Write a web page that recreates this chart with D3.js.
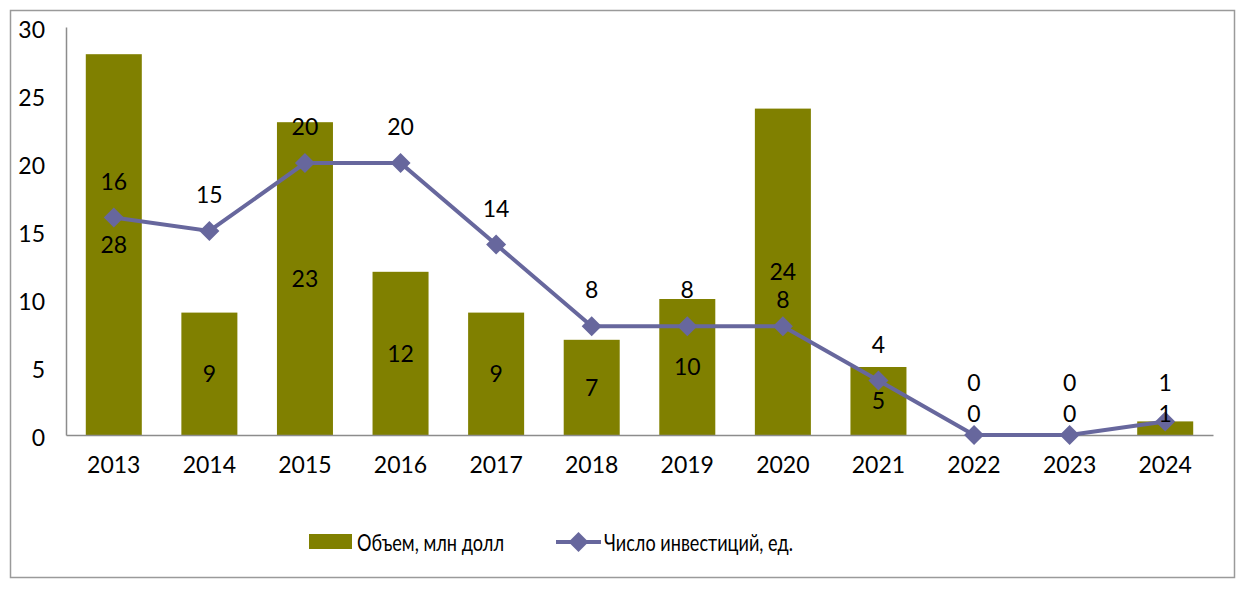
<!DOCTYPE html>
<html><head><meta charset="utf-8">
<script src="https://cdn.jsdelivr.net/npm/d3@7/dist/d3.min.js"></script>
<style>
html,body{margin:0;padding:0;background:#fff;}
svg text{font-family:Lato,"Open Sans",sans-serif;fill:#000;}
</style></head>
<body>
<svg id="chart" width="1248" height="589"></svg>
<script>
const years = ["2013","2014","2015","2016","2017","2018","2019","2020","2021","2022","2023","2024"];
const volume = [28, 9, 23, 12, 9, 7, 10, 24, 5, 0, 0, 1];
const counts = [16, 15, 20, 20, 14, 8, 8, 8, 4, 0, 0, 1];
const yTicks = [0, 5, 10, 15, 20, 25, 30];
const seriesNames = ["Объем, млн долл", "Число инвестиций, ед."];

const barColor = "#808000", lineColor = "#67679d", fs = 23;
const svg = d3.select("#chart");
const m = {left: 66, right: 1213, top: 27, bottom: 435};

svg.append("rect").attr("x", 10.5).attr("y", 10.5).attr("width", 1224).attr("height", 567)
  .attr("fill", "#fff").attr("stroke", "#9a9a9a").attr("stroke-width", 1.5);

const x = d3.scaleBand().domain(years).range([m.left, m.right]).paddingInner(0.414).paddingOuter(0.207);
const y = d3.scaleLinear().domain([0, 30]).range([m.bottom, m.top]);

// y axis
const ya = svg.append("g").attr("transform", `translate(${m.left},0)`)
  .call(d3.axisLeft(y).tickValues(yTicks).tickSize(0).tickPadding(21));
ya.select(".domain").attr("stroke", "#8c8c8c").attr("stroke-width", 1.5);
ya.selectAll("text").attr("font-size", fs).attr("dy", "0.45em").style("font-family", "Lato");

// bars
svg.append("g").selectAll("rect").data(years).join("rect")
  .attr("x", d => x(d)).attr("width", x.bandwidth())
  .attr("y", (d, i) => y(volume[i])).attr("height", (d, i) => y(0) - y(volume[i]))
  .attr("fill", barColor);

// x axis
const xa = svg.append("g").attr("transform", `translate(0,${m.bottom})`)
  .call(d3.axisBottom(x).tickSize(0).tickPadding(22));
xa.select(".domain").attr("stroke", "#8c8c8c").attr("stroke-width", 1.5);
xa.selectAll("text").attr("font-size", fs).style("font-family", "Lato");

// line
const cx = d => x(d) + x.bandwidth() / 2;
const line = d3.line().x((d, i) => cx(years[i])).y(d => y(d));
svg.append("path").datum(counts).attr("d", line).attr("fill", "none")
  .attr("stroke", lineColor).attr("stroke-width", 4);
const diamondPath = d3.symbol().type(d3.symbolSquare).size(200)();
svg.append("g").selectAll("path").data(counts).join("path")
  .attr("d", diamondPath)
  .attr("transform", (d, i) => `translate(${cx(years[i])},${y(d)}) rotate(45)`)
  .attr("fill", lineColor);

// labels
const barLabelY = volume.map(v => {
  const h = y(0) - y(v);
  return h >= 50 ? y(v) + h / 2 : y(0) - 21;
});
const lineLabelY = counts.map((v, i) => {
  let ly = y(v) - 36;
  const b = barLabelY[i];
  if (Math.abs(ly - b) < 30) {
    ly = volume[i] > v ? b + 28 : b - 31;
  }
  return ly;
});
const lab = svg.append("g").attr("font-size", fs).attr("text-anchor", "middle");
lab.selectAll("text.b").data(volume).join("text").attr("class", "b")
  .attr("x", (d, i) => cx(years[i])).attr("y", (d, i) => barLabelY[i]).attr("dy", "0.36em")
  .text(d => d);
lab.selectAll("text.l").data(counts).join("text").attr("class", "l")
  .attr("x", (d, i) => cx(years[i])).attr("y", (d, i) => lineLabelY[i]).attr("dy", "0.36em")
  .text(d => d);

// legend
const lg = svg.append("g").attr("font-size", 24)
  .style("font-family", "'Liberation Sans Narrow', Lato, sans-serif");
lg.append("rect").attr("x", 309).attr("y", 534).attr("width", 43).attr("height", 15).attr("fill", barColor);
lg.append("text").attr("x", 357).attr("y", 542).attr("dy", "0.36em")
  .attr("textLength", 147).attr("lengthAdjust", "spacingAndGlyphs").text(seriesNames[0]);
lg.append("line").attr("x1", 556).attr("x2", 601).attr("y1", 542).attr("y2", 542)
  .attr("stroke", lineColor).attr("stroke-width", 4);
lg.append("path").attr("d", diamondPath)
  .attr("transform", "translate(578.5,542) rotate(45)").attr("fill", lineColor);
lg.append("text").attr("x", 604).attr("y", 542).attr("dy", "0.36em")
  .attr("textLength", 189).attr("lengthAdjust", "spacingAndGlyphs").text(seriesNames[1]);
</script>
</body></html>
